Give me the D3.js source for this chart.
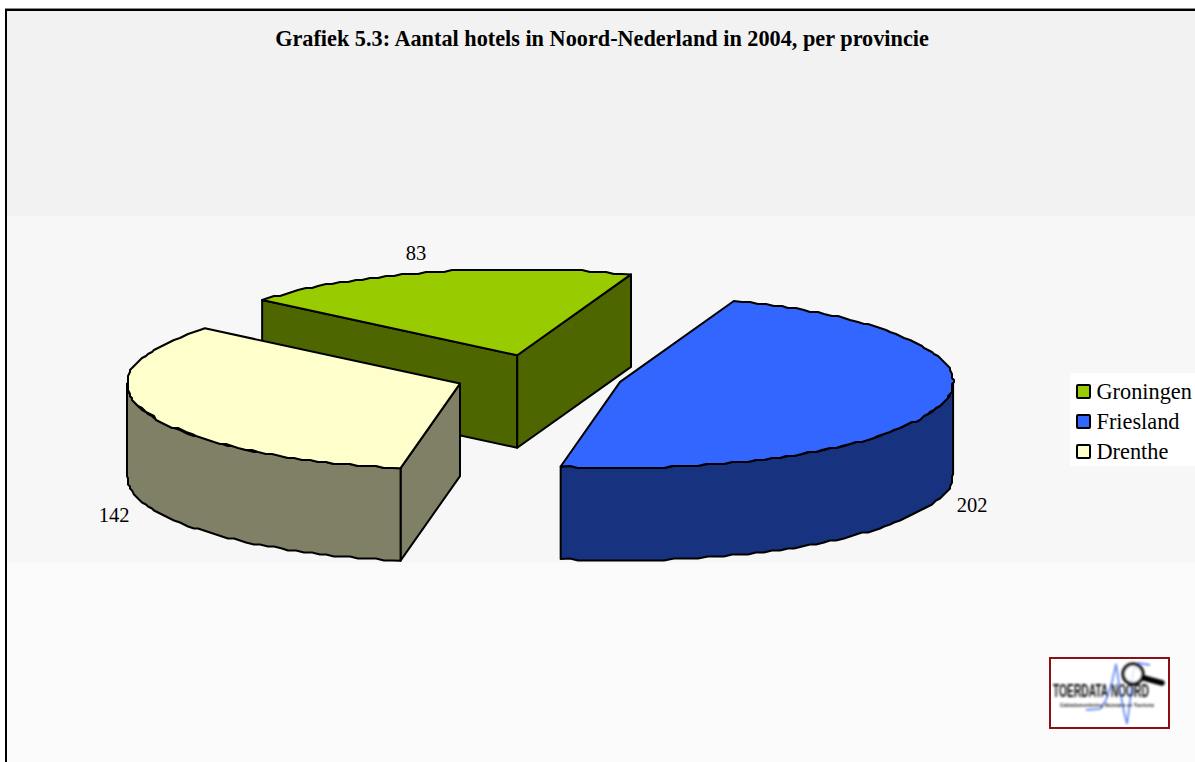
<!DOCTYPE html>
<html><head><meta charset="utf-8">
<script src="https://cdn.jsdelivr.net/npm/d3@7/dist/d3.min.js"></script>
<style>html,body{margin:0;padding:0;background:#fff;overflow:hidden}svg{display:block}</style>
</head><body><svg id="c" width="1195" height="762"></svg>
<script>
const categories = ["Groningen","Friesland","Drenthe"];
const values = [83,202,142];
const topColors = ["#99cc00","#3366ff","#ffffcc"];
const wallColors = ["#4d6600","#17337f","#808066"];
const title = "Grafiek 5.3: Aantal hotels in Noord-Nederland in 2004, per provincie";
const logoTitle = "TOERDATA NOORD";
const logoSub = "Gebiedsmonitoring Recreatie en Toerisme";
const serif = "'Liberation Serif','Times New Roman',serif";

const svg = d3.select("#c");
const W=1195,H=762;

svg.append("rect").attr("width",W).attr("height",H).attr("fill","#fff");
const bg = svg.append("g");
bg.append("rect").attr("x",6).attr("y",10).attr("width",W-6).attr("height",206).attr("fill","#f2f2f2");
bg.append("rect").attr("x",6).attr("y",216).attr("width",W-6).attr("height",347).attr("fill","#f7f7f7");
bg.append("rect").attr("x",6).attr("y",563).attr("width",W-6).attr("height",H-563).attr("fill","#fbfbfb");
svg.append("rect").attr("x",5).attr("y",8).attr("width",W).attr("height",1).attr("fill","#8a8a8a");
svg.append("rect").attr("x",5).attr("y",9).attr("width",W).attr("height",2).attr("fill","#000");
svg.append("rect").attr("x",5).attr("y",9).attr("width",2).attr("height",H).attr("fill","#000");

svg.append("text").attr("x",602).attr("y",46).attr("text-anchor","middle")
  .attr("font-family",serif).attr("font-weight","bold").attr("font-size",22.25).attr("fill","#000").text(title);

// 3D pie geometry
const cx=539, cy=376.2, rx=333, ry=86, explode=84, depth=92.5;
const pie = d3.pie().sort(null).startAngle(-50*Math.PI/180).endAngle((360-50)*Math.PI/180);
const xr = d3.scaleLinear().domain([-1,1]).range([-rx,rx]);
const yr = d3.scaleLinear().domain([-1,1]).range([ry,-ry]);
const arcs = pie(values).map((d,i)=>{
  const mid=(d.startAngle+d.endAngle)/2;
  return {...d,i,ox:cx+xr(Math.sin(mid))*explode/rx,oy:cy+yr(Math.cos(mid))*explode/rx};
});
const snap=(v,s)=>Math.round(v/s)*s;
function rimPts(d,a0,a1){
  const n=Math.max(2,Math.ceil(Math.abs(a1-a0)/(Math.PI/120)));
  const pts=[];
  for(let k=0;k<=n;k++){
    const a=a0+(a1-a0)*k/n;
    let x=d.ox+xr(Math.sin(a)), y=d.oy+yr(Math.cos(a));
    if(k>0&&k<n){x=snap(x,2);y=snap(y,2);} 
    pts.push([x,y]);
  }
  return pts;
}
const line=d3.line();
const faces=svg.append("g").attr("stroke","#000").attr("stroke-width",2).attr("stroke-linejoin","round");
[0,2,1].forEach(idx=>{
  const d=arcs[idx];
  const g=faces.append("g");
  const edge=(a)=>[d.ox+xr(Math.sin(a)),d.oy+yr(Math.cos(a))];
  const c=[d.ox,d.oy];
  // radial walls: drawn only when they face the viewer
  [[d.startAngle,-1],[d.endAngle,1]].forEach(([a,side])=>{
    if(Math.sin(a)*side>0){
      const p=edge(a);
      g.append("path").attr("fill",wallColors[d.i]).attr("d",
        line([c,p,[p[0],p[1]+depth],[c[0],c[1]+depth]])+"Z");
    }
  });
  // outer wall: lower half of the rim only
  const lo=Math.max(d.startAngle,Math.PI/2), hi=Math.min(d.endAngle,Math.PI*1.5);
  if(hi>lo){
    const t=rimPts(d,lo,hi);
    const b=t.slice().reverse().map(p=>[p[0],p[1]+depth]);
    g.append("path").attr("fill",wallColors[d.i]).attr("d",line(t.concat(b))+"Z");
  }
  g.append("path").attr("fill",topColors[d.i]).attr("d",
    line([c].concat(rimPts(d,d.startAngle,d.endAngle)))+"Z");
});

// data labels
const labelPos=[[416,260],[972,512],[114,522]];
svg.append("g").selectAll("text").data(values).join("text")
  .attr("x",(d,i)=>labelPos[i][0]).attr("y",(d,i)=>labelPos[i][1])
  .attr("text-anchor","middle").attr("font-family",serif).attr("font-size",20.5).attr("fill","#000").text(d=>d);

// legend
const lg=svg.append("g");
lg.append("rect").attr("x",1070).attr("y",373).attr("width",125).attr("height",93).attr("fill","#fff");
const ly=d3.scalePoint().domain(categories).range([392,452]);
categories.forEach((c,i)=>{
  lg.append("rect").attr("x",1077).attr("y",ly(c)-7).attr("width",13).attr("height",13).attr("rx",1)
    .attr("fill",topColors[i]).attr("stroke","#000").attr("stroke-width",2);
  lg.append("text").attr("x",1096.5).attr("y",ly(c)+7).attr("font-family",serif).attr("font-size",22.3).attr("fill","#000").text(c);
});

// logo
const defs=svg.append("defs");
defs.append("filter").attr("id","bl").append("feGaussianBlur").attr("stdDeviation",0.8);
const lo=svg.append("g");
lo.append("rect").attr("x",1050).attr("y",658).attr("width",119).attr("height",70).attr("fill","#fff").attr("stroke","#8b0f14").attr("stroke-width",2);
const inner=lo.append("g").attr("filter","url(#bl)");
inner.append("path").attr("fill","none").attr("stroke","#6f90f0").attr("stroke-width",1.8)
  .attr("d","M1086 710 L1100 709 L1106 700 L1112 682 L1116 664 L1120 690 L1124 712 L1127 724 L1130 702 L1133 672 L1138 663 L1150 665");
inner.append("circle").attr("cx",1133).attr("cy",674).attr("r",10).attr("fill","#fff").attr("fill-opacity",.8).attr("stroke","#222").attr("stroke-width",3.5);
inner.append("line").attr("x1",1144).attr("y1",678).attr("x2",1162).attr("y2",683).attr("stroke","#000").attr("stroke-width",5.5).attr("stroke-linecap","round");
inner.append("text").attr("transform","translate(1053,697) scale(0.54,1)").attr("font-family","'Liberation Sans',sans-serif").attr("font-weight","bold")
  .attr("font-size",19).attr("fill","#111").text(logoTitle);
inner.append("text").attr("transform","translate(1060,707) scale(0.98,1)").attr("font-family","'Liberation Sans',sans-serif")
  .attr("font-size",4.8).attr("font-weight","bold").attr("fill","#222").text(logoSub);
</script></body></html>
